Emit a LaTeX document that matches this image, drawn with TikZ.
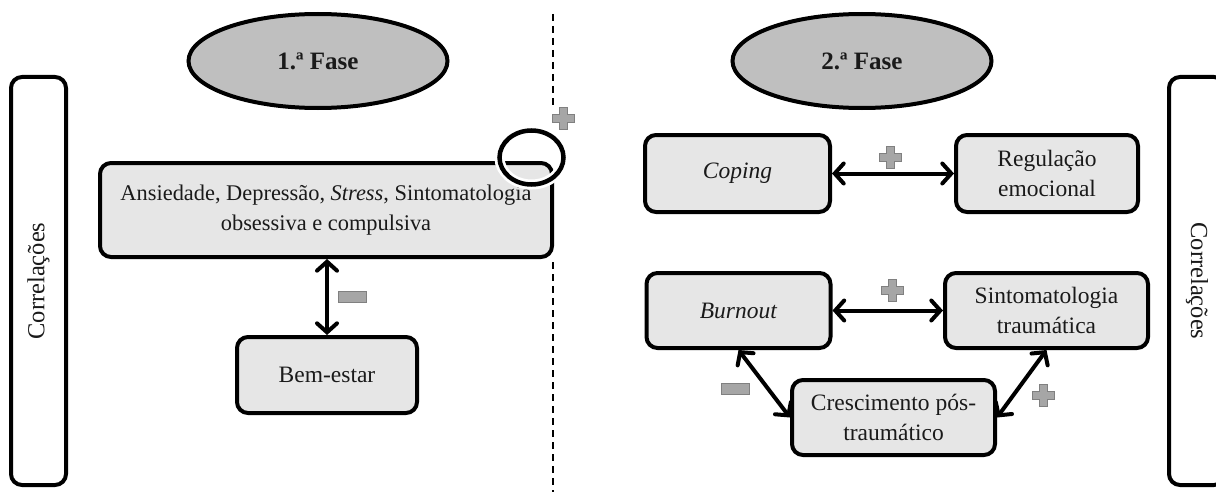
\documentclass[tikz,border=0pt]{standalone}
\usepackage{fontspec}
\setmainfont{Liberation Serif}
\usetikzlibrary{arrows.meta,shapes.geometric}
\definecolor{boxfill}{HTML}{E6E6E6}
\definecolor{ellfill}{HTML}{BFBFBF}
\definecolor{signfill}{HTML}{A6A6A6}
\definecolor{signline}{HTML}{808080}
\definecolor{ink}{HTML}{1A1A1A}
\newcommand\plusmark[1]{\path[shift={(#1)}, fill=signfill, draw=signline, line width=1pt]
  (-4,-11) -- (4,-11) -- (4,-4) -- (11,-4) -- (11,4) -- (4,4) -- (4,11) -- (-4,11) -- (-4,4) -- (-11,4) -- (-11,-4) -- (-4,-4) -- cycle;}
\newcommand\minusmark[1]{\path[shift={(#1)}, fill=signfill, draw=signline, line width=1pt] (-14,-5.5) rectangle (14,5.5);}
\begin{document}
\begin{tikzpicture}[x=1pt,y=-1pt,
  txt/.style={font=\fontsize{23.5}{30}\selectfont, text=ink},
  rbox/.style={draw=black, fill=boxfill, line width=4pt, rounded corners=11pt, align=center, inner sep=0pt, txt},
  phase/.style={ellipse, draw=black, fill=ellfill, line width=4pt, minimum width=259pt, minimum height=94pt, inner sep=0pt, text=ink, font=\bfseries\fontsize{25}{30}\selectfont},
  corr/.style={draw=black, line width=4pt, rounded corners=11pt, inner sep=0pt, font=\fontsize{24.5}{30}\selectfont, text=ink},
  link/.style={line width=4pt, line cap=round, {Straight Barb[length=9pt,width=20pt,line cap=round]}-{Straight Barb[length=9pt,width=20pt,line cap=round]}},
  divider/.style={line width=1.5pt, dash pattern=on 7pt off 5pt}
]
\useasboundingbox (0,0) rectangle (1216,495);
\clip (0,0) rectangle (1216,495);
\fill[white] (0,0) rectangle (1216,495);

% divider
\coordinate (dtop) at (553,14);
\coordinate (dmid1) at (553,106);
\coordinate (dmid2) at (553,262);
\coordinate (dbot) at (553,492);
\draw[divider] (dtop) -- (dmid1);
\draw[divider] (dmid2) -- (dbot);

% side boxes
\node[corr, rotate=90, minimum width=408pt, minimum height=55pt] (corrL) at (38.5,281) {Correlações};
\node[corr, rotate=-90, minimum width=408pt, minimum height=56pt] (corrR) at (1197,281) {Correlações};

% phases
\node[phase] (f1) at (318,61) {1.ª Fase};
\node[phase] (f2) at (862,61) {2.ª Fase};

% phase 1
\node[rbox, minimum width=452pt, minimum height=94pt, font=\fontsize{22.4}{30}\selectfont] (anx) at (326,210)
  {Ansiedade, Depressão, \textit{Stress}, Sintomatologia\\ obsessiva e compulsiva};
\node[rbox, minimum width=180pt, minimum height=76pt] (bem) at (327,375) {Bem-estar};
\draw[link] (anx.south -| bem.north) -- (bem.north);
\minusmark{352,297}
\draw[white, line width=10pt] (531.5,157.5) ellipse [x radius=32, y radius=27];
\draw[black, line width=4.5pt] (531.5,157.5) ellipse [x radius=32, y radius=27];
\plusmark{563,118}

% phase 2
\node[rbox, minimum width=185pt, minimum height=77pt] (cop) at (737.5,173.5) {\textit{Coping}};
\node[rbox, minimum width=182pt, minimum height=77pt] (reg) at (1047,173.5) {Regulação\\ emocional};
\draw[link] (cop.east) -- (reg.west);
\plusmark{890,157}

\node[rbox, minimum width=184pt, minimum height=75pt] (burn) at (738.5,310.5) {\textit{Burnout}};
\node[rbox, minimum width=203pt, minimum height=75pt] (sint) at (1046.5,310.5) {Sintomatologia\\ traumática};
\node[rbox, minimum width=203pt, minimum height=75pt] (cres) at (893.5,417.5) {Crescimento pós-\\ traumático};
\draw[link] (burn.east) -- (sint.west);
\plusmark{892,290}
\draw[link] (burn.south) -- (cres.west);
\minusmark{735,389}
\draw[link] (sint.south) -- (cres.east);
\plusmark{1043,395}
\end{tikzpicture}
\end{document}
